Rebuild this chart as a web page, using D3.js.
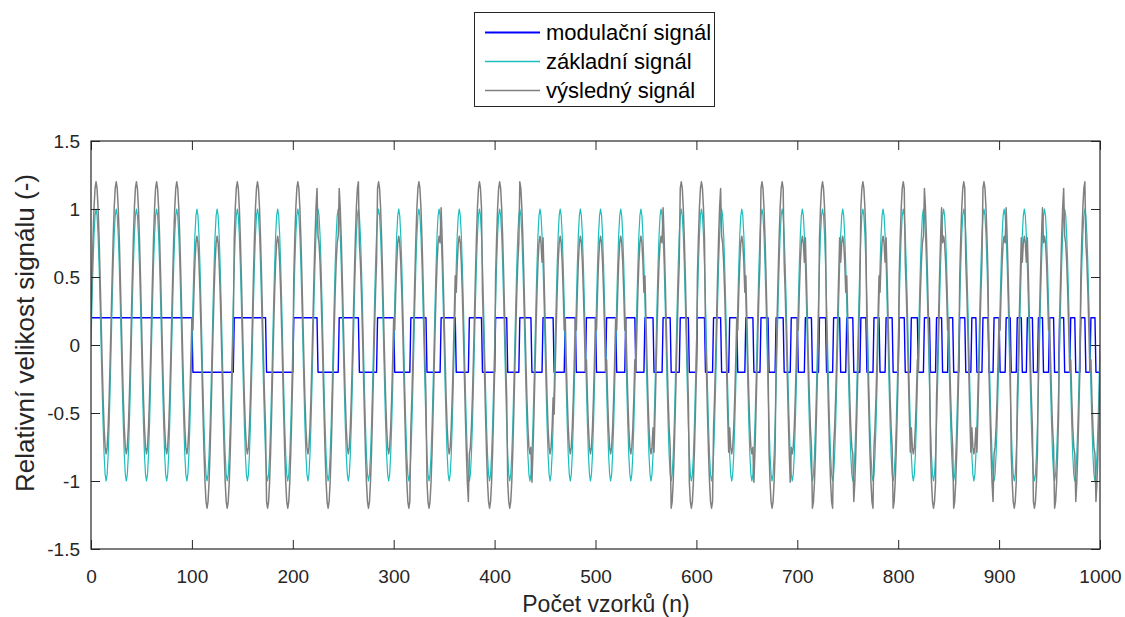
<!DOCTYPE html>
<html>
<head>
<meta charset="utf-8">
<script src="https://cdn.jsdelivr.net/npm/d3@7"></script>
<style>
  html, body { margin: 0; padding: 0; background: #fff; }
  svg { display: block; font-family: "Liberation Sans", Arial, Helvetica, sans-serif; }
</style>
</head>
<body>
<svg id="chart" width="1125" height="617"></svg>
<script>
// ---- data ----
// number of samples on the x axis
const sampleCount = 1000;
// one period (20 samples) of the base sine, repeated along the whole axis
const basePeriod = [0, 0.309, 0.588, 0.809, 0.951, 1, 0.951, 0.809, 0.588, 0.309,
                    0, -0.309, -0.588, -0.809, -0.951, -1, -0.951, -0.809, -0.588, -0.309];
// levels of the square modulation signal
const modLevels = [0.2, -0.2];
// sample positions where the modulation signal switches level
const modSwitches = [100,141,173,200,224,245,265,283,300,316,332,346,361,374,387,400,
  412,424,436,447,458,469,480,490,500,510,520,529,539,548,557,566,574,583,592,600,
  608,616,624,632,640,648,656,663,671,678,686,693,700,707,714,721,728,735,742,748,
  755,762,768,775,781,787,794,800,806,812,819,825,831,837,843,849,854,860,866,872,
  877,883,889,894,900,906,911,917,922,927,933,938,943,949,954,959,964,970,975,980,
  985,990,995];
const seriesNames = ["modulační signál", "základní signál", "výsledný signál"];
const xTicks = [0,100,200,300,400,500,600,700,800,900,1000];
const yTicks = [-1.5,-1,-0.5,0,0.5,1,1.5];
const xLabel = "Počet vzorků (n)";
const yLabel = "Relativní velikost signálu (-)";

// ---- build series ----
const samples = d3.range(0, sampleCount + 1);
const base = samples.map(n => ({x: n, y: basePeriod[n % basePeriod.length]}));
const modulation = samples.map(n => {
  const k = modSwitches.filter(t => n > t).length;
  return {x: n, y: modLevels[k % 2]};
});
const result = samples.map((n, i) => ({x: n, y: base[i].y + modulation[i].y}));

// ---- layout ----
const svg = d3.select("#chart");
const L = 91, R = 1100, T = 141, B = 549;
const x = d3.scaleLinear().domain([0, 1000]).range([L, R]);
const y = d3.scaleLinear().domain([-1.5, 1.5]).range([B, T]);
const axisColor = "#262626";
const textColor = "#262626";
const colors = ["#0000ff", "#1cbdbd", "#808080"];
const widths = [1.4, 1.2, 1.5];

svg.append("defs").append("clipPath").attr("id", "clip")
  .append("rect").attr("x", L).attr("y", T).attr("width", R - L).attr("height", B - T);

const line = d3.line().x(d => x(d.x)).y(d => y(d.y));
const plot = svg.append("g").attr("clip-path", "url(#clip)");
[modulation, base, result].forEach((s, i) => {
  plot.append("path").datum(s)
    .attr("fill", "none")
    .attr("stroke", colors[i])
    .attr("stroke-width", widths[i])
    .attr("stroke-linejoin", "round")
    .attr("d", line);
});

// ---- axes (MATLAB-like box with inward ticks) ----
const tickFont = 19;
function styleAxis(g, labels) {
  g.select(".domain").remove();
  g.selectAll(".tick line").attr("stroke", axisColor).attr("stroke-width", 1);
  g.selectAll(".tick text").attr("fill", textColor).attr("font-size", tickFont)
    .attr("font-family", "Liberation Sans, Arial, sans-serif");
  if (!labels) g.selectAll(".tick text").remove();
}
const tickLen = 9;
svg.append("g").attr("transform", `translate(0,${B})`)
  .call(d3.axisBottom(x).tickValues(xTicks).tickSize(-tickLen).tickPadding(21).tickFormat(d3.format("d")))
  .call(g => styleAxis(g, true));
svg.append("g").attr("transform", `translate(0,${T})`)
  .call(d3.axisTop(x).tickValues(xTicks).tickSize(-tickLen))
  .call(g => styleAxis(g, false));
svg.append("g").attr("transform", `translate(${L},0)`)
  .call(d3.axisLeft(y).tickValues(yTicks).tickSize(-tickLen).tickPadding(11).tickFormat(d => String(d)))
  .call(g => styleAxis(g, true));
svg.append("g").attr("transform", `translate(${R},0)`)
  .call(d3.axisRight(y).tickValues(yTicks).tickSize(-tickLen))
  .call(g => styleAxis(g, false));
svg.append("rect").attr("x", L).attr("y", T).attr("width", R - L).attr("height", B - T)
  .attr("fill", "none").attr("stroke", axisColor).attr("stroke-width", 1.2);

// axis labels
svg.append("text").attr("x", 606).attr("y", 612)
  .attr("text-anchor", "middle").attr("font-size", 23).attr("fill", textColor)
  .text(xLabel);
svg.append("text").attr("transform", `translate(34,333) rotate(-90)`)
  .attr("text-anchor", "middle").attr("font-size", 26).attr("fill", textColor)
  .text(yLabel);

// ---- legend ----
const lg = svg.append("g");
lg.append("rect").attr("x", 474.5).attr("y", 12.5).attr("width", 240).attr("height", 94)
  .attr("fill", "#fff").attr("stroke", axisColor).attr("stroke-width", 1);
seriesNames.forEach((name, i) => {
  const cy = [32.5, 61.5, 90.5][i];
  lg.append("line").attr("x1", 485).attr("x2", 540).attr("y1", cy).attr("y2", cy)
    .attr("stroke", colors[i]).attr("stroke-width", i === 0 ? 2 : 1.4);
  lg.append("text").attr("x", 546).attr("y", cy + 7).attr("font-size", 22).attr("fill", "#000")
    .text(name);
});
</script>
</body>
</html>
